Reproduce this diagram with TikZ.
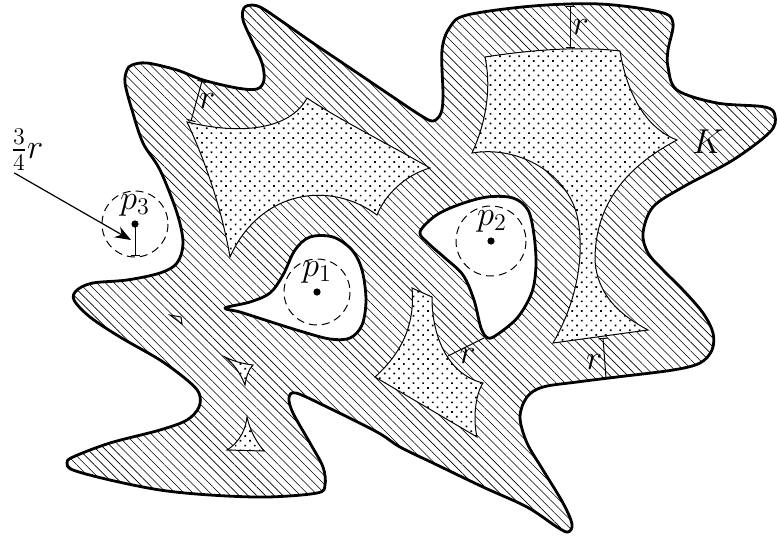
\documentclass[tikz,border=0pt]{standalone}
\usepackage{amsmath}
\usetikzlibrary{arrows.meta,patterns.meta}

\begin{document}
\begin{tikzpicture}[
  x=0.5pt, y=-0.5pt,
  bnd/.style={line width=1.4pt, line join=round},
  hatch/.style={pattern={Lines[angle=-45, distance=3.1pt, line width=0.3pt]}},
  dotreg/.style={draw, line width=0.5pt, fill=white,
                 postaction={pattern={Dots[angle=45, distance=3.4pt, radius=0.6pt]}}},
  dimline/.style={line width=0.5pt, {Bar[width=4.5pt]}-{Bar[width=4.5pt]}},
  ring/.style={line width=0.5pt, dash pattern=on 4pt off 2.5pt},
  pt/.style={circle, fill, inner sep=0pt, minimum size=3.6pt},
  lbl/.style={font=\LARGE, inner sep=1pt},
  arrow/.style={-{Stealth[length=8pt, width=6pt]}, line width=0.6pt}
]
\useasboundingbox (0,0) rectangle (777,537);

% --- The set K ---
\draw[bnd, hatch] plot[smooth cycle, tension=0.55] coordinates {
  (132,65) (147,63) (177,70) (203,80) (237,88) (257,89) (264,80) (262,63)
  (253,43) (243,20) (244,8) (252,5) (262,8) (280,20) (313,43) (353,70)
  (387,93) (420,115) (433,121) (441,113) (443,95) (442,50) (450,27) (467,15)
  (533,6) (600,4) (660,12) (673,23) (668,50) (668,67) (677,90) (717,103)
  (765,107) (775,116) (770,132) (733,160) (683,187) (653,207) (643,233)
  (648,253) (663,270) (683,290) (703,313) (713,333) (712,350) (700,363)
  (673,370) (617,377) (577,382) (543,387) (527,397) (520,417) (527,443)
  (543,470) (563,503) (572,524) (568,532) (557,527) (527,507) (483,487)
  (433,463) (400,447) (377,432) (327,407) (296,393) (289,398) (293,413)
  (310,443) (323,467) (325,485) (317,493) (267,497) (210,495) (160,490)
  (110,480) (73,470) (67,463) (73,457) (110,443) (160,430) (187,420)
  (199,407) (199,393) (187,380) (160,360) (120,337) (90,317) (74,300)
  (77,290) (93,283) (127,280) (160,273) (177,263) (183,243) (177,213)
  (160,170) (143,143) (132,110) (125,83) (127,70)};

% --- Holes around p1 and p2 ---
\draw[bnd, fill=white] plot[smooth cycle, tension=0.55] coordinates {
  (225,308) (250,302) (270,293) (283,275) (295,250) (310,237) (333,237)
  (352,250) (362,270) (366,300) (362,325) (350,338) (330,339) (300,331)
  (265,320) (240,312)};
\draw[bnd, fill=white] plot[smooth cycle, tension=0.55] coordinates {
  (420,232) (435,216) (458,205) (487,197) (513,198) (528,210) (534,235)
  (536,265) (532,292) (518,317) (498,334) (488,338) (481,328) (474,300)
  (463,275) (445,258) (428,243)};

% --- Inner regions ---
\path[dotreg] (187,122) .. controls (240,135) and (290,130) .. (307,98)
  .. controls (340,120) and (390,145) .. (430,168)
  .. controls (405,175) and (385,195) .. (377,215)
  .. controls (330,180) and (260,190) .. (230,257)
  .. controls (222,210) and (205,160) .. cycle;
\path[dotreg] (485,57) .. controls (530,50) and (580,46) .. (620,51)
  .. controls (628,100) and (650,130) .. (677,140)
  .. controls (620,170) and (595,210) .. (595,260)
  .. controls (597,295) and (620,315) .. (648,330)
  -- (553,343)
  .. controls (575,305) and (585,260) .. (578,220)
  .. controls (570,175) and (520,145) .. (472,153)
  .. controls (485,125) and (492,90) .. cycle;
\path[dotreg] (412,288) -- (432,297)
  .. controls (432,340) and (450,375) .. (483,383)
  .. controls (475,395) and (473,420) .. (477,437)
  -- (375,377)
  .. controls (405,350) and (415,320) .. cycle;
\path[dotreg] (225,357) .. controls (235,362) and (245,364) .. (253,365)
  .. controls (248,370) and (246,378) .. (245,385)
  .. controls (240,372) and (232,362) .. cycle;
\path[dotreg] (247,417) .. controls (245,435) and (235,445) .. (227,450)
  -- (264,451) .. controls (255,440) and (250,430) .. cycle;
\draw[line width=0.5pt] (170,315) -- (181,317) -- (182,324) -- cycle;

% --- Points and circles ---
\node[pt] (p1) at (317,292) {};
\node[pt] (p2) at (491,241) {};
\node[pt] (p3) at (135,224) {};
\draw[ring] (p1) circle[radius=33];
\draw[ring] (p2) circle[radius=35];
\draw[ring] (p3) circle[radius=33];
\node[lbl] (lp1) at (317,272) {$p_1$};
\node[lbl] (lp2) at (492,221) {$p_2$};
\node[lbl] (lp3) at (135,205) {$p_3$};
\node[lbl] (lK) at (708,142) {$K$};

% --- Distance marks ---
\coordinate (a1) at (202,81);  \coordinate (b1) at (191,121);
\coordinate (a2) at (570,6);   \coordinate (b2) at (570,48);
\coordinate (a3) at (603,338); \coordinate (b3) at (606,378);
\coordinate (a4) at (484,338); \coordinate (b4) at (448,356);
\coordinate (b5) at (135,256);
\draw[dimline] (a1) -- node[right, lbl] {$r$} (b1);
\draw[dimline] (a2) -- node[right, lbl] {$r$} (b2);
\draw[dimline] (a3) -- node[left, lbl, pos=0.6] {$r$} (b3);
\draw[line width=0.5pt] (a4) -- node[below, lbl, pos=0.45] {$r$} (b4);
\draw[line width=0.5pt, -{Bar[width=4.5pt]}] (p3.center) -- (b5);

% --- 3/4 r label ---
\node[lbl] (frac) at (27,150) {$\frac{3}{4}r$};
\coordinate (aim) at (131,240);
\draw[arrow] (frac.south west) ++(6,0) -- (aim);

\end{tikzpicture}
\end{document}
